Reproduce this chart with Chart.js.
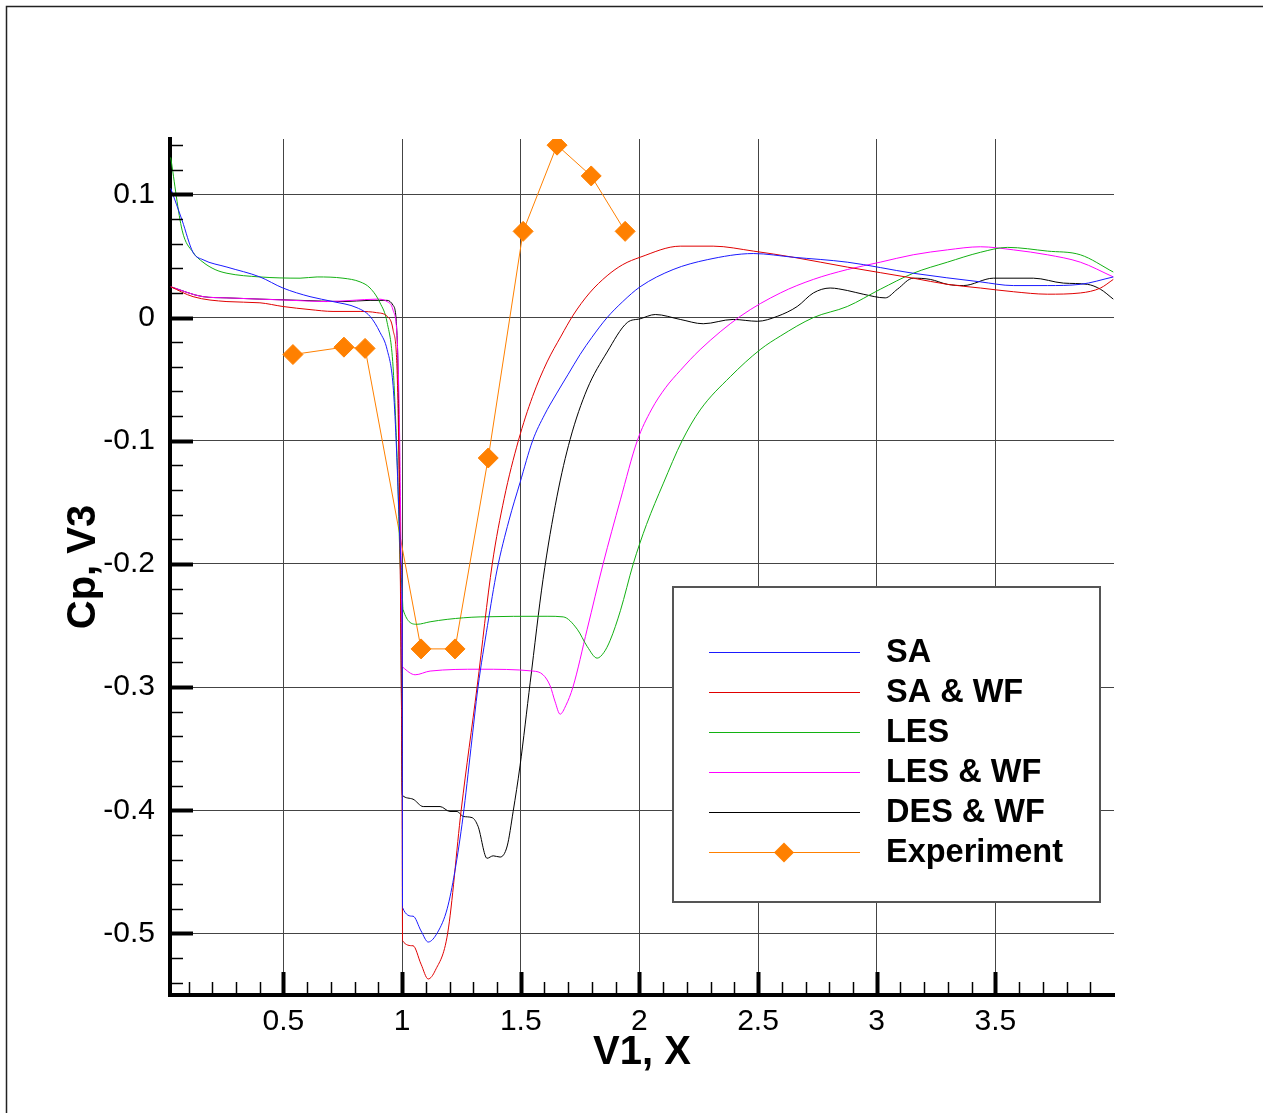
<!DOCTYPE html>
<html>
<head>
<meta charset="utf-8">
<script src="https://cdn.jsdelivr.net/npm/chart.js@4.4.1/dist/chart.umd.min.js"></script>
<style>
  body { margin: 0; background: #fff; }
  canvas { display: block; }
</style>
</head>
<body>
<canvas id="chartCp" width="1263" height="1113"></canvas>
<script>
var saX = [0.025, 0.073, 0.119, 0.161, 0.262, 0.401, 0.498, 0.612, 0.709, 0.810, 0.865, 0.907, 0.937, 0.962, 0.975, 0.987, 0.996, 1.0, 1.002, 1.046, 1.080, 1.110, 1.150, 1.190, 1.222, 1.257, 1.290, 1.320, 1.360, 1.400, 1.450, 1.497, 1.550, 1.600, 1.650, 1.700, 1.750, 1.800, 1.864, 1.930, 2.003, 2.142, 2.286, 2.480, 2.648, 2.876, 3.154, 3.437, 3.576, 3.719, 3.858, 3.997];
var saY = [0.105, 0.079, 0.053, 0.047, 0.041, 0.033, 0.024, 0.017, 0.013, 0.008, 0.001, -0.012, -0.026, -0.055, -0.1, -0.16, -0.2, -0.22, -0.479, -0.486, -0.498, -0.507, -0.499, -0.48, -0.45, -0.405, -0.35, -0.30, -0.25, -0.205, -0.165, -0.134, -0.1, -0.079, -0.062, -0.046, -0.030, -0.016, 0.0, 0.013, 0.025, 0.039, 0.047, 0.052, 0.049, 0.045, 0.036, 0.029, 0.026, 0.026, 0.027, 0.033];

var saWfX = [0.025, 0.119, 0.262, 0.401, 0.498, 0.612, 0.709, 0.823, 0.893, 0.937, 0.962, 0.980, 0.992, 1.0, 1.002, 1.046, 1.080, 1.110, 1.140, 1.192, 1.249, 1.316, 1.380, 1.430, 1.490, 1.550, 1.611, 1.670, 1.721, 1.790, 1.864, 1.930, 2.003, 2.172, 2.311, 2.480, 2.648, 2.876, 3.154, 3.298, 3.437, 3.576, 3.719, 3.858, 3.943, 3.997];
var saWfY = [0.025, 0.017, 0.013, 0.012, 0.009, 0.0065, 0.005, 0.005, 0.004, 0.001, -0.010, -0.05, -0.2, -0.4, -0.506, -0.51, -0.525, -0.537, -0.530, -0.500, -0.400, -0.300, -0.200, -0.147, -0.100, -0.064, -0.036, -0.015, 0.002, 0.020, 0.034, 0.043, 0.049, 0.058, 0.058, 0.054, 0.049, 0.041, 0.032, 0.027, 0.024, 0.021, 0.019, 0.020, 0.024, 0.031];

var lesX = [0.025, 0.073, 0.119, 0.161, 0.212, 0.262, 0.401, 0.570, 0.642, 0.751, 0.823, 0.865, 0.907, 0.937, 0.962, 0.980, 0.992, 1.0, 1.004, 1.063, 1.118, 1.190, 1.329, 1.611, 1.679, 1.738, 1.780, 1.822, 1.850, 1.877, 1.920, 1.974, 2.030, 2.100, 2.180, 2.256, 2.383, 2.509, 2.594, 2.733, 2.876, 3.015, 3.154, 3.298, 3.437, 3.551, 3.719, 3.858, 3.997];
var lesY = [0.13, 0.071, 0.053, 0.045, 0.039, 0.036, 0.033, 0.032, 0.033, 0.032, 0.029, 0.024, 0.012, -0.004, -0.04, -0.12, -0.2, -0.22, -0.237, -0.249, -0.247, -0.245, -0.243, -0.2425, -0.243, -0.253, -0.267, -0.2765, -0.272, -0.262, -0.238, -0.200, -0.168, -0.135, -0.100, -0.075, -0.048, -0.026, -0.015, 0.0, 0.009, 0.023, 0.036, 0.045, 0.053, 0.057, 0.054, 0.051, 0.037];

var lesWfX = [0.025, 0.161, 0.262, 0.401, 0.540, 0.680, 0.790, 0.895, 0.937, 0.962, 0.980, 0.990, 0.996, 1.0, 1.004, 1.055, 1.118, 1.329, 1.552, 1.594, 1.624, 1.645, 1.666, 1.690, 1.720, 1.780, 1.847, 1.920, 1.991, 2.050, 2.110, 2.172, 2.256, 2.425, 2.594, 2.733, 2.876, 3.015, 3.154, 3.298, 3.437, 3.576, 3.719, 3.858, 3.997];
var lesWfY = [0.025, 0.017, 0.016, 0.015, 0.014, 0.013, 0.014, 0.015, 0.013, 0.006, -0.02, -0.1, -0.2, -0.28, -0.284, -0.29, -0.287, -0.2855, -0.287, -0.29, -0.299, -0.312, -0.322, -0.315, -0.300, -0.253, -0.200, -0.148, -0.100, -0.075, -0.057, -0.043, -0.026, 0.001, 0.020, 0.031, 0.039, 0.045, 0.051, 0.055, 0.0575, 0.055, 0.051, 0.045, 0.033];

var desWfX = [0.025, 0.161, 0.262, 0.401, 0.570, 0.751, 0.865, 0.937, 0.962, 0.980, 0.990, 0.997, 1.0, 1.002, 1.046, 1.089, 1.160, 1.202, 1.232, 1.257, 1.295, 1.320, 1.358, 1.384, 1.413, 1.443, 1.468, 1.497, 1.540, 1.594, 1.653, 1.708, 1.780, 1.864, 1.949, 2.003, 2.067, 2.172, 2.269, 2.395, 2.497, 2.581, 2.665, 2.733, 2.804, 2.876, 2.943, 3.036, 3.087, 3.154, 3.226, 3.298, 3.365, 3.492, 3.660, 3.787, 3.888, 3.943, 3.997];
var desWfY = [0.025, 0.017, 0.016, 0.015, 0.014, 0.013, 0.014, 0.014, 0.010, -0.02, -0.15, -0.3, -0.385, -0.388, -0.391, -0.397, -0.397, -0.401, -0.401, -0.405, -0.406, -0.413, -0.439, -0.437, -0.438, -0.429, -0.401, -0.364, -0.296, -0.2125, -0.145, -0.099, -0.058, -0.028, -0.004, -0.001, 0.0025, -0.0015, -0.005, -0.0015, -0.003, 0.001, 0.009, 0.020, 0.024, 0.022, 0.019, 0.016, 0.023, 0.032, 0.031, 0.027, 0.026, 0.032, 0.032, 0.028, 0.027, 0.023, 0.015];

var expX = [0.540, 0.755, 0.844, 1.080, 1.223, 1.363, 1.510, 1.653, 1.797, 1.940];
var expY = [-0.030, -0.024, -0.025, -0.269, -0.269, -0.114, 0.070, 0.140, 0.115, 0.070];

var ticksX = [0.5, 1, 1.5, 2, 2.5, 3, 3.5];
var ticksY = [-0.5, -0.4, -0.3, -0.2, -0.1, 0, 0.1];

var fonte = '"Liberation Sans", Arial, Helvetica, sans-serif';

function pontos(xs, ys) {
  return xs.map(function (x, i) { return { x: x, y: ys[i] }; });
}

function serie(nome, xs, ys, cor) {
  return {
    label: nome,
    data: pontos(xs, ys),
    borderColor: cor,
    backgroundColor: cor,
    borderWidth: 1,
    pointRadius: 0,
    cubicInterpolationMode: 'monotone'
  };
}

var experimento = serie('Experiment', expX, expY, '#ff8000');
experimento.cubicInterpolationMode = 'default';
experimento.tension = 0;
experimento.pointRadius = 10;
experimento.pointStyle = 'rectRot';
experimento.pointBorderWidth = 1;

// ticks menores e maiores para dentro, como no Tecplot
var marcasEixo = {
  id: 'marcasEixo',
  afterDraw: function (chart) {
    var c = chart.ctx, sx = chart.scales.x, sy = chart.scales.y;
    var a = chart.chartArea;
    c.save();
    c.strokeStyle = '#000';
    for (var i = 1; i < 40; i++) {
      var v = i / 10;
      var px = Math.round(sx.getPixelForValue(v)) + 0.5;
      var major = i % 5 === 0;
      c.lineWidth = major ? 4 : 1.5;
      c.beginPath();
      c.moveTo(px, a.bottom);
      c.lineTo(px, a.bottom - (major ? 23 : 13));
      c.stroke();
    }
    for (var j = -27; j <= 7; j++) {
      var vy = j / 50;
      var py = Math.round(sy.getPixelForValue(vy)) + 0.5;
      var majorY = j % 5 === 0;
      c.lineWidth = majorY ? 4 : 1.5;
      c.beginPath();
      c.moveTo(a.left, py);
      c.lineTo(a.left + (majorY ? 23 : 13), py);
      c.stroke();
    }
    // moldura da figura
    c.lineWidth = 1.5;
    c.strokeStyle = '#222';
    c.beginPath();
    c.moveTo(6.5, chart.height);
    c.lineTo(6.5, 6.5);
    c.lineTo(chart.width, 6.5);
    c.stroke();
    c.restore();
  }
};

var legendaCaixa = {
  id: 'legendaCaixa',
  afterDatasetsDraw: function (chart) {
    var c = chart.ctx;
    var ds = chart.data.datasets;
    c.save();
    c.fillStyle = '#fff';
    c.fillRect(673, 587, 427, 315);
    c.strokeStyle = '#555';
    c.lineWidth = 2;
    c.strokeRect(673, 587, 427, 315);
    c.font = 'bold 32.5px ' + fonte;
    c.textBaseline = 'middle';
    c.textAlign = 'left';
    for (var i = 0; i < ds.length; i++) {
      var y = 652.5 + i * 40;
      c.strokeStyle = ds[i].borderColor;
      c.lineWidth = 1;
      c.beginPath();
      c.moveTo(709, y);
      c.lineTo(860, y);
      c.stroke();
      if (ds[i].pointRadius > 0) {
        c.fillStyle = ds[i].backgroundColor;
        c.beginPath();
        c.moveTo(784, y - 10);
        c.lineTo(794, y);
        c.lineTo(784, y + 10);
        c.lineTo(774, y);
        c.closePath();
        c.fill();
      }
      c.fillStyle = '#000';
      c.fillText(ds[i].label, 886, y + 1);
    }
    c.restore();
  }
};

var ctxCp = document.getElementById('chartCp').getContext('2d');

var configCp = {
  type: 'line',
  data: {
    datasets: [
      serie('SA', saX, saY, '#1a1aff'),
      serie('SA & WF', saWfX, saWfY, '#e00000'),
      serie('LES', lesX, lesY, '#13b013'),
      serie('LES & WF', lesWfX, lesWfY, '#ff00ff'),
      serie('DES & WF', desWfX, desWfY, '#000000'),
      experimento
    ]
  },
  options: {
    responsive: false,
    animation: false,
    layout: { padding: { top: 139, right: 149, left: 0, bottom: 0 } },
    plugins: {
      legend: { display: false },
      tooltip: { enabled: false }
    },
    scales: {
      x: {
        type: 'linear',
        min: 0.022,
        max: 4.0,
        afterBuildTicks: function (s) { s.ticks = ticksX.map(function (v) { return { value: v }; }); },
        afterFit: function (s) { s.height = 118; },
        grid: { color: '#444', lineWidth: 1, drawTicks: false },
        border: { color: '#000', width: 4 },
        ticks: {
          color: '#000',
          padding: 9,
          maxRotation: 0,
          font: { family: fonte, size: 30 },
          callback: function (v) { return String(Number(v.toFixed(2))); }
        },
        title: {
          display: true,
          text: 'V1, X',
          color: '#000',
          font: { family: fonte, size: 40, weight: 'bold' },
          padding: { top: 0, bottom: 36 }
        }
      },
      y: {
        type: 'linear',
        min: -0.55,
        max: 0.145,
        afterBuildTicks: function (s) { s.ticks = ticksY.map(function (v) { return { value: v }; }); },
        afterFit: function (s) { s.width = 170; },
        grid: { color: '#444', lineWidth: 1, drawTicks: false },
        border: { color: '#000', width: 4 },
        ticks: {
          color: '#000',
          padding: 15,
          font: { family: fonte, size: 30 },
          callback: function (v) { var t = Number(v.toFixed(2)); return t === 0 ? '0' : String(t); }
        },
        title: {
          display: true,
          text: 'Cp, V3',
          color: '#000',
          font: { family: fonte, size: 40, weight: 'bold' },
          padding: { top: 60, bottom: 0 }
        }
      }
    }
  },
  plugins: [marcasEixo, legendaCaixa]
};

var chartCp = new Chart(ctxCp, configCp);
</script>
</body>
</html>
